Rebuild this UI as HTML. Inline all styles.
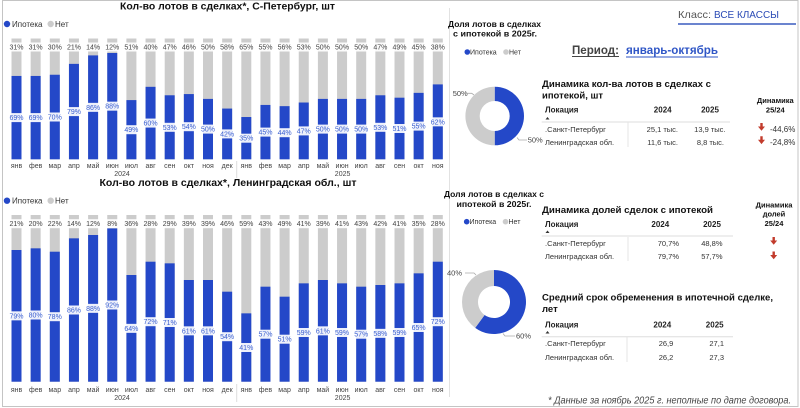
<!DOCTYPE html>
<html><head><meta charset="utf-8"><style>
html,body{margin:0;padding:0;background:#fff;}
body{width:800px;height:408px;overflow:hidden;}
svg{display:block;font-family:"Liberation Sans",Arial,sans-serif;}
.bl{fill:#2448c8}.gr{fill:#cccccc}
.lb{fill:#fff;opacity:.92}
.bt{font-size:7px;fill:#3a5fd0;text-anchor:middle}
.gt{font-size:7px;fill:#444;text-anchor:middle}
.mt{font-size:7px;fill:#444;text-anchor:middle}
.th{font-size:8px;font-weight:bold;fill:#222}
.td{font-size:7.5px;fill:#333}
.tr{font-size:7.5px;fill:#333;text-anchor:end}
.ar{fill:#c23b2c}
</style></head><body>
<svg width="800" height="408" viewBox="0 0 800 408" xmlns="http://www.w3.org/2000/svg">
<rect x="2.5" y="0.5" width="795.5" height="406" fill="none" stroke="#c4c4c4" stroke-width="1"/>
<line x1="449.5" y1="8" x2="449.5" y2="397" stroke="#e2e2e2" stroke-width="1"/>

<!-- TOP CHART -->
<text x="227.5" y="9.5" font-size="10" font-weight="bold" fill="#111" text-anchor="middle" textLength="215" lengthAdjust="spacingAndGlyphs">Кол-во лотов в сделках*, С-Петербург, шт</text>
<circle cx="7" cy="24" r="3.2" class="bl"/><text x="12" y="27" font-size="8" fill="#333">Ипотека</text>
<circle cx="50.7" cy="24" r="3.2" class="gr"/><text x="55" y="27" font-size="8" fill="#333">Нет</text>

<g>
<rect class="gr" x="11.5" y="38.5" width="10" height="120.8"/><rect class="bl" x="11.5" y="75.95" width="10" height="83.35"/>
<rect class="gr" x="30.65" y="38.5" width="10" height="120.8"/><rect class="bl" x="30.65" y="75.95" width="10" height="83.35"/>
<rect class="gr" x="49.8" y="38.5" width="10" height="120.8"/><rect class="bl" x="49.8" y="74.74" width="10" height="84.56"/>
<rect class="gr" x="68.95" y="38.5" width="10" height="120.8"/><rect class="bl" x="68.95" y="63.87" width="10" height="95.43"/>
<rect class="gr" x="88.1" y="38.5" width="10" height="120.8"/><rect class="bl" x="88.1" y="55.4" width="10" height="103.9"/>
<rect class="gr" x="107.25" y="38.5" width="10" height="120.8"/><rect class="bl" x="107.25" y="53" width="10" height="106.3"/>
<rect class="gr" x="126.4" y="38.5" width="10" height="120.8"/><rect class="bl" x="126.4" y="100.1" width="10" height="59.2"/>
<rect class="gr" x="145.55" y="38.5" width="10" height="120.8"/><rect class="bl" x="145.55" y="86.82" width="10" height="72.48"/>
<rect class="gr" x="164.7" y="38.5" width="10" height="120.8"/><rect class="bl" x="164.7" y="95.28" width="10" height="64.02"/>
<rect class="gr" x="183.85" y="38.5" width="10" height="120.8"/><rect class="bl" x="183.85" y="94.07" width="10" height="65.23"/>
<rect class="gr" x="203" y="38.5" width="10" height="120.8"/><rect class="bl" x="203" y="98.9" width="10" height="60.4"/>
<rect class="gr" x="222.15" y="38.5" width="10" height="120.8"/><rect class="bl" x="222.15" y="108.56" width="10" height="50.74"/>
<rect class="gr" x="241.3" y="38.5" width="10" height="120.8"/><rect class="bl" x="241.3" y="117.02" width="10" height="42.28"/>
<rect class="gr" x="260.45" y="38.5" width="10" height="120.8"/><rect class="bl" x="260.45" y="104.94" width="10" height="54.36"/>
<rect class="gr" x="279.6" y="38.5" width="10" height="120.8"/><rect class="bl" x="279.6" y="106.15" width="10" height="53.15"/>
<rect class="gr" x="298.75" y="38.5" width="10" height="120.8"/><rect class="bl" x="298.75" y="102.52" width="10" height="56.78"/>
<rect class="gr" x="317.9" y="38.5" width="10" height="120.8"/><rect class="bl" x="317.9" y="98.9" width="10" height="60.4"/>
<rect class="gr" x="337.05" y="38.5" width="10" height="120.8"/><rect class="bl" x="337.05" y="98.9" width="10" height="60.4"/>
<rect class="gr" x="356.2" y="38.5" width="10" height="120.8"/><rect class="bl" x="356.2" y="98.9" width="10" height="60.4"/>
<rect class="gr" x="375.35" y="38.5" width="10" height="120.8"/><rect class="bl" x="375.35" y="95.28" width="10" height="64.02"/>
<rect class="gr" x="394.5" y="38.5" width="10" height="120.8"/><rect class="bl" x="394.5" y="97.69" width="10" height="61.61"/>
<rect class="gr" x="413.65" y="38.5" width="10" height="120.8"/><rect class="bl" x="413.65" y="92.86" width="10" height="66.44"/>
<rect class="gr" x="432.8" y="38.5" width="10" height="120.8"/><rect class="bl" x="432.8" y="84.4" width="10" height="74.9"/>
</g>
<!-- top grey labels -->
<g>
<rect class="lb" x="9.5" y="42.5" width="14" height="9"/><text class="gt" x="16.5" y="49.5">31%</text>
<rect class="lb" x="28.65" y="42.5" width="14" height="9"/><text class="gt" x="35.65" y="49.5">31%</text>
<rect class="lb" x="47.8" y="42.5" width="14" height="9"/><text class="gt" x="54.8" y="49.5">30%</text>
<rect class="lb" x="66.95" y="42.5" width="14" height="9"/><text class="gt" x="73.95" y="49.5">21%</text>
<rect class="lb" x="86.1" y="42.5" width="14" height="9"/><text class="gt" x="93.1" y="49.5">14%</text>
<rect class="lb" x="105.25" y="42.5" width="14" height="9"/><text class="gt" x="112.25" y="49.5">12%</text>
<rect class="lb" x="124.4" y="42.5" width="14" height="9"/><text class="gt" x="131.4" y="49.5">51%</text>
<rect class="lb" x="143.55" y="42.5" width="14" height="9"/><text class="gt" x="150.55" y="49.5">40%</text>
<rect class="lb" x="162.7" y="42.5" width="14" height="9"/><text class="gt" x="169.7" y="49.5">47%</text>
<rect class="lb" x="181.85" y="42.5" width="14" height="9"/><text class="gt" x="188.85" y="49.5">46%</text>
<rect class="lb" x="201" y="42.5" width="14" height="9"/><text class="gt" x="208" y="49.5">50%</text>
<rect class="lb" x="220.15" y="42.5" width="14" height="9"/><text class="gt" x="227.15" y="49.5">58%</text>
<rect class="lb" x="239.3" y="42.5" width="14" height="9"/><text class="gt" x="246.3" y="49.5">65%</text>
<rect class="lb" x="258.45" y="42.5" width="14" height="9"/><text class="gt" x="265.45" y="49.5">55%</text>
<rect class="lb" x="277.6" y="42.5" width="14" height="9"/><text class="gt" x="284.6" y="49.5">56%</text>
<rect class="lb" x="296.75" y="42.5" width="14" height="9"/><text class="gt" x="303.75" y="49.5">53%</text>
<rect class="lb" x="315.9" y="42.5" width="14" height="9"/><text class="gt" x="322.9" y="49.5">50%</text>
<rect class="lb" x="335.05" y="42.5" width="14" height="9"/><text class="gt" x="342.05" y="49.5">50%</text>
<rect class="lb" x="354.2" y="42.5" width="14" height="9"/><text class="gt" x="361.2" y="49.5">50%</text>
<rect class="lb" x="373.35" y="42.5" width="14" height="9"/><text class="gt" x="380.35" y="49.5">47%</text>
<rect class="lb" x="392.5" y="42.5" width="14" height="9"/><text class="gt" x="399.5" y="49.5">49%</text>
<rect class="lb" x="411.65" y="42.5" width="14" height="9"/><text class="gt" x="418.65" y="49.5">45%</text>
<rect class="lb" x="430.8" y="42.5" width="14" height="9"/><text class="gt" x="437.8" y="49.5">38%</text>
</g>
<!-- top blue labels -->
<g>
<rect class="lb" x="9.5" y="113.1" width="14" height="9"/><text class="bt" x="16.5" y="120.1">69%</text>
<rect class="lb" x="28.65" y="113.1" width="14" height="9"/><text class="bt" x="35.65" y="120.1">69%</text>
<rect class="lb" x="47.8" y="112.5" width="14" height="9"/><text class="bt" x="54.8" y="119.5">70%</text>
<rect class="lb" x="66.95" y="107.1" width="14" height="9"/><text class="bt" x="73.95" y="114.1">79%</text>
<rect class="lb" x="86.1" y="102.85" width="14" height="9"/><text class="bt" x="93.1" y="109.85">86%</text>
<rect class="lb" x="105.25" y="101.65" width="14" height="9"/><text class="bt" x="112.25" y="108.65">88%</text>
<rect class="lb" x="124.4" y="125.2" width="14" height="9"/><text class="bt" x="131.4" y="132.2">49%</text>
<rect class="lb" x="143.55" y="118.56" width="14" height="9"/><text class="bt" x="150.55" y="125.56">60%</text>
<rect class="lb" x="162.7" y="122.8" width="14" height="9"/><text class="bt" x="169.7" y="129.8">53%</text>
<rect class="lb" x="181.85" y="122.2" width="14" height="9"/><text class="bt" x="188.85" y="129.2">54%</text>
<rect class="lb" x="201" y="124.6" width="14" height="9"/><text class="bt" x="208" y="131.6">50%</text>
<rect class="lb" x="220.15" y="129.4" width="14" height="9"/><text class="bt" x="227.15" y="136.4">42%</text>
<rect class="lb" x="239.3" y="133.7" width="14" height="9"/><text class="bt" x="246.3" y="140.7">35%</text>
<rect class="lb" x="258.45" y="127.6" width="14" height="9"/><text class="bt" x="265.45" y="134.6">45%</text>
<rect class="lb" x="277.6" y="128.2" width="14" height="9"/><text class="bt" x="284.6" y="135.2">44%</text>
<rect class="lb" x="296.75" y="126.4" width="14" height="9"/><text class="bt" x="303.75" y="133.4">47%</text>
<rect class="lb" x="315.9" y="124.6" width="14" height="9"/><text class="bt" x="322.9" y="131.6">50%</text>
<rect class="lb" x="335.05" y="124.6" width="14" height="9"/><text class="bt" x="342.05" y="131.6">50%</text>
<rect class="lb" x="354.2" y="124.6" width="14" height="9"/><text class="bt" x="361.2" y="131.6">50%</text>
<rect class="lb" x="373.35" y="122.8" width="14" height="9"/><text class="bt" x="380.35" y="129.8">53%</text>
<rect class="lb" x="392.5" y="124" width="14" height="9"/><text class="bt" x="399.5" y="131">51%</text>
<rect class="lb" x="411.65" y="121.6" width="14" height="9"/><text class="bt" x="418.65" y="128.6">55%</text>
<rect class="lb" x="430.8" y="117.35" width="14" height="9"/><text class="bt" x="437.8" y="124.35">62%</text>
</g>
<g>
<text class="mt" x="16.5" y="168">янв</text><text class="mt" x="35.65" y="168">фев</text><text class="mt" x="54.8" y="168">мар</text><text class="mt" x="73.95" y="168">апр</text><text class="mt" x="93.1" y="168">май</text><text class="mt" x="112.25" y="168">июн</text><text class="mt" x="131.4" y="168">июл</text><text class="mt" x="150.55" y="168">авг</text><text class="mt" x="169.7" y="168">сен</text><text class="mt" x="188.85" y="168">окт</text><text class="mt" x="208" y="168">ноя</text><text class="mt" x="227.15" y="168">дек</text><text class="mt" x="246.3" y="168">янв</text><text class="mt" x="265.45" y="168">фев</text><text class="mt" x="284.6" y="168">мар</text><text class="mt" x="303.75" y="168">апр</text><text class="mt" x="322.9" y="168">май</text><text class="mt" x="342.05" y="168">июн</text><text class="mt" x="361.2" y="168">июл</text><text class="mt" x="380.35" y="168">авг</text><text class="mt" x="399.5" y="168">сен</text><text class="mt" x="418.65" y="168">окт</text><text class="mt" x="437.8" y="168">ноя</text>
<text class="mt" x="122" y="176">2024</text><text class="mt" x="342.6" y="176">2025</text>
<line x1="236.7" y1="161" x2="236.7" y2="178" stroke="#ddd"/>
</g>

<!-- BOTTOM CHART -->
<text x="228" y="186" font-size="10" font-weight="bold" fill="#111" text-anchor="middle" textLength="257" lengthAdjust="spacingAndGlyphs">Кол-во лотов в сделках*, Ленинградская обл., шт</text>
<circle cx="7" cy="200.7" r="3.2" class="bl"/><text x="12" y="203.7" font-size="8" fill="#333">Ипотека</text>
<circle cx="50.7" cy="200.7" r="3.2" class="gr"/><text x="55" y="203.7" font-size="8" fill="#333">Нет</text>
<g>
<rect class="gr" x="11.5" y="215" width="10" height="166.7"/><rect class="bl" x="11.5" y="250" width="10" height="131.7"/>
<rect class="gr" x="30.65" y="215" width="10" height="166.7"/><rect class="bl" x="30.65" y="248.34" width="10" height="133.36"/>
<rect class="gr" x="49.8" y="215" width="10" height="166.7"/><rect class="bl" x="49.8" y="251.7" width="10" height="130"/>
<rect class="gr" x="68.95" y="215" width="10" height="166.7"/><rect class="bl" x="68.95" y="238.34" width="10" height="143.36"/>
<rect class="gr" x="88.1" y="215" width="10" height="166.7"/><rect class="bl" x="88.1" y="235" width="10" height="146.7"/>
<rect class="gr" x="107.25" y="215" width="10" height="166.7"/><rect class="bl" x="107.25" y="228.34" width="10" height="153.36"/>
<rect class="gr" x="126.4" y="215" width="10" height="166.7"/><rect class="bl" x="126.4" y="275" width="10" height="106.7"/>
<rect class="gr" x="145.55" y="215" width="10" height="166.7"/><rect class="bl" x="145.55" y="261.7" width="10" height="120"/>
<rect class="gr" x="164.7" y="215" width="10" height="166.7"/><rect class="bl" x="164.7" y="263.34" width="10" height="118.36"/>
<rect class="gr" x="183.85" y="215" width="10" height="166.7"/><rect class="bl" x="183.85" y="280" width="10" height="101.7"/>
<rect class="gr" x="203" y="215" width="10" height="166.7"/><rect class="bl" x="203" y="280" width="10" height="101.7"/>
<rect class="gr" x="222.15" y="215" width="10" height="166.7"/><rect class="bl" x="222.15" y="291.68" width="10" height="90.02"/>
<rect class="gr" x="241.3" y="215" width="10" height="166.7"/><rect class="bl" x="241.3" y="313.35" width="10" height="68.35"/>
<rect class="gr" x="260.45" y="215" width="10" height="166.7"/><rect class="bl" x="260.45" y="286.68" width="10" height="95.02"/>
<rect class="gr" x="279.6" y="215" width="10" height="166.7"/><rect class="bl" x="279.6" y="296.68" width="10" height="85.02"/>
<rect class="gr" x="298.75" y="215" width="10" height="166.7"/><rect class="bl" x="298.75" y="283.35" width="10" height="98.35"/>
<rect class="gr" x="317.9" y="215" width="10" height="166.7"/><rect class="bl" x="317.9" y="280" width="10" height="101.7"/>
<rect class="gr" x="337.05" y="215" width="10" height="166.7"/><rect class="bl" x="337.05" y="283.35" width="10" height="98.35"/>
<rect class="gr" x="356.2" y="215" width="10" height="166.7"/><rect class="bl" x="356.2" y="286.68" width="10" height="95.02"/>
<rect class="gr" x="375.35" y="215" width="10" height="166.7"/><rect class="bl" x="375.35" y="285" width="10" height="96.7"/>
<rect class="gr" x="394.5" y="215" width="10" height="166.7"/><rect class="bl" x="394.5" y="283.35" width="10" height="98.35"/>
<rect class="gr" x="413.65" y="215" width="10" height="166.7"/><rect class="bl" x="413.65" y="273.34" width="10" height="108.36"/>
<rect class="gr" x="432.8" y="215" width="10" height="166.7"/><rect class="bl" x="432.8" y="261.7" width="10" height="120"/>
</g>
<g>
<rect class="lb" x="9.5" y="219.2" width="14" height="9"/><text class="gt" x="16.5" y="226.2">21%</text>
<rect class="lb" x="28.65" y="219.2" width="14" height="9"/><text class="gt" x="35.65" y="226.2">20%</text>
<rect class="lb" x="47.8" y="219.2" width="14" height="9"/><text class="gt" x="54.8" y="226.2">22%</text>
<rect class="lb" x="66.95" y="219.2" width="14" height="9"/><text class="gt" x="73.95" y="226.2">14%</text>
<rect class="lb" x="86.1" y="219.2" width="14" height="9"/><text class="gt" x="93.1" y="226.2">12%</text>
<rect class="lb" x="105.25" y="219.2" width="14" height="9"/><text class="gt" x="112.25" y="226.2">8%</text>
<rect class="lb" x="124.4" y="219.2" width="14" height="9"/><text class="gt" x="131.4" y="226.2">36%</text>
<rect class="lb" x="143.55" y="219.2" width="14" height="9"/><text class="gt" x="150.55" y="226.2">28%</text>
<rect class="lb" x="162.7" y="219.2" width="14" height="9"/><text class="gt" x="169.7" y="226.2">29%</text>
<rect class="lb" x="181.85" y="219.2" width="14" height="9"/><text class="gt" x="188.85" y="226.2">39%</text>
<rect class="lb" x="201" y="219.2" width="14" height="9"/><text class="gt" x="208" y="226.2">39%</text>
<rect class="lb" x="220.15" y="219.2" width="14" height="9"/><text class="gt" x="227.15" y="226.2">46%</text>
<rect class="lb" x="239.3" y="219.2" width="14" height="9"/><text class="gt" x="246.3" y="226.2">59%</text>
<rect class="lb" x="258.45" y="219.2" width="14" height="9"/><text class="gt" x="265.45" y="226.2">43%</text>
<rect class="lb" x="277.6" y="219.2" width="14" height="9"/><text class="gt" x="284.6" y="226.2">49%</text>
<rect class="lb" x="296.75" y="219.2" width="14" height="9"/><text class="gt" x="303.75" y="226.2">41%</text>
<rect class="lb" x="315.9" y="219.2" width="14" height="9"/><text class="gt" x="322.9" y="226.2">39%</text>
<rect class="lb" x="335.05" y="219.2" width="14" height="9"/><text class="gt" x="342.05" y="226.2">41%</text>
<rect class="lb" x="354.2" y="219.2" width="14" height="9"/><text class="gt" x="361.2" y="226.2">43%</text>
<rect class="lb" x="373.35" y="219.2" width="14" height="9"/><text class="gt" x="380.35" y="226.2">42%</text>
<rect class="lb" x="392.5" y="219.2" width="14" height="9"/><text class="gt" x="399.5" y="226.2">41%</text>
<rect class="lb" x="411.65" y="219.2" width="14" height="9"/><text class="gt" x="418.65" y="226.2">35%</text>
<rect class="lb" x="430.8" y="219.2" width="14" height="9"/><text class="gt" x="437.8" y="226.2">28%</text>
</g>
<g>
<rect class="lb" x="9.5" y="311.35" width="14" height="9"/><text class="bt" x="16.5" y="318.35">79%</text>
<rect class="lb" x="28.65" y="310.5" width="14" height="9"/><text class="bt" x="35.65" y="317.5">80%</text>
<rect class="lb" x="47.8" y="312.2" width="14" height="9"/><text class="bt" x="54.8" y="319.2">78%</text>
<rect class="lb" x="66.95" y="305.5" width="14" height="9"/><text class="bt" x="73.95" y="312.5">86%</text>
<rect class="lb" x="86.1" y="303.85" width="14" height="9"/><text class="bt" x="93.1" y="310.85">88%</text>
<rect class="lb" x="105.25" y="300.5" width="14" height="9"/><text class="bt" x="112.25" y="307.5">92%</text>
<rect class="lb" x="124.4" y="323.85" width="14" height="9"/><text class="bt" x="131.4" y="330.85">64%</text>
<rect class="lb" x="143.55" y="317.2" width="14" height="9"/><text class="bt" x="150.55" y="324.2">72%</text>
<rect class="lb" x="162.7" y="318" width="14" height="9"/><text class="bt" x="169.7" y="325">71%</text>
<rect class="lb" x="181.85" y="326.35" width="14" height="9"/><text class="bt" x="188.85" y="333.35">61%</text>
<rect class="lb" x="201" y="326.35" width="14" height="9"/><text class="bt" x="208" y="333.35">61%</text>
<rect class="lb" x="220.15" y="332.2" width="14" height="9"/><text class="bt" x="227.15" y="339.2">54%</text>
<rect class="lb" x="239.3" y="343" width="14" height="9"/><text class="bt" x="246.3" y="350">41%</text>
<rect class="lb" x="258.45" y="329.7" width="14" height="9"/><text class="bt" x="265.45" y="336.7">57%</text>
<rect class="lb" x="277.6" y="334.7" width="14" height="9"/><text class="bt" x="284.6" y="341.7">51%</text>
<rect class="lb" x="296.75" y="328" width="14" height="9"/><text class="bt" x="303.75" y="335">59%</text>
<rect class="lb" x="315.9" y="326.35" width="14" height="9"/><text class="bt" x="322.9" y="333.35">61%</text>
<rect class="lb" x="335.05" y="328" width="14" height="9"/><text class="bt" x="342.05" y="335">59%</text>
<rect class="lb" x="354.2" y="329.7" width="14" height="9"/><text class="bt" x="361.2" y="336.7">57%</text>
<rect class="lb" x="373.35" y="328.85" width="14" height="9"/><text class="bt" x="380.35" y="335.85">58%</text>
<rect class="lb" x="392.5" y="328" width="14" height="9"/><text class="bt" x="399.5" y="335">59%</text>
<rect class="lb" x="411.65" y="323" width="14" height="9"/><text class="bt" x="418.65" y="330">65%</text>
<rect class="lb" x="430.8" y="317.2" width="14" height="9"/><text class="bt" x="437.8" y="324.2">72%</text>
</g>
<g>
<text class="mt" x="16.5" y="392">янв</text><text class="mt" x="35.65" y="392">фев</text><text class="mt" x="54.8" y="392">мар</text><text class="mt" x="73.95" y="392">апр</text><text class="mt" x="93.1" y="392">май</text><text class="mt" x="112.25" y="392">июн</text><text class="mt" x="131.4" y="392">июл</text><text class="mt" x="150.55" y="392">авг</text><text class="mt" x="169.7" y="392">сен</text><text class="mt" x="188.85" y="392">окт</text><text class="mt" x="208" y="392">ноя</text><text class="mt" x="227.15" y="392">дек</text><text class="mt" x="246.3" y="392">янв</text><text class="mt" x="265.45" y="392">фев</text><text class="mt" x="284.6" y="392">мар</text><text class="mt" x="303.75" y="392">апр</text><text class="mt" x="322.9" y="392">май</text><text class="mt" x="342.05" y="392">июн</text><text class="mt" x="361.2" y="392">июл</text><text class="mt" x="380.35" y="392">авг</text><text class="mt" x="399.5" y="392">сен</text><text class="mt" x="418.65" y="392">окт</text><text class="mt" x="437.8" y="392">ноя</text>
<text class="mt" x="122" y="400">2024</text><text class="mt" x="342.6" y="400">2025</text>
<line x1="236.7" y1="384" x2="236.7" y2="402" stroke="#ddd"/>
</g>

<!-- RIGHT PANEL -->
<text x="678" y="18" font-size="10.5" fill="#555" textLength="33" lengthAdjust="spacingAndGlyphs">Класс:</text>
<text x="714" y="18" font-size="10" fill="#2a4ab5" textLength="65" lengthAdjust="spacingAndGlyphs">ВСЕ КЛАССЫ</text>
<line x1="678" y1="24" x2="796" y2="24" stroke="#3a5bbf" stroke-width="1.5"/>

<text x="494.5" y="27" font-size="8.5" font-weight="bold" fill="#111" text-anchor="middle" textLength="93" lengthAdjust="spacingAndGlyphs">Доля лотов в сделках</text>
<text x="495" y="36.5" font-size="8.5" font-weight="bold" fill="#111" text-anchor="middle" textLength="84" lengthAdjust="spacingAndGlyphs">с ипотекой в 2025г.</text>
<circle cx="467.3" cy="52" r="2.8" class="bl"/><text x="470" y="54.5" font-size="7" fill="#333">Ипотека</text>
<circle cx="506" cy="52" r="2.8" class="gr"/><text x="509" y="54.5" font-size="7" fill="#333">Нет</text>

<text x="572" y="54" font-size="12" font-weight="bold" fill="#444" textLength="47" lengthAdjust="spacingAndGlyphs">Период:</text>
<line x1="572" y1="56.5" x2="619" y2="56.5" stroke="#444" stroke-width="1"/>
<text x="626" y="54" font-size="12" font-weight="bold" fill="#2f56c6" textLength="92" lengthAdjust="spacingAndGlyphs">январь-октябрь</text>
<line x1="626" y1="57" x2="718" y2="57" stroke="#2f56c6" stroke-width="1"/>

<!-- donut 1 -->
<path d="M494.7,86.7 A29.3,29.3 0 0 1 494.7,145.3 L494.7,131 A15,15 0 0 0 494.7,101 Z" class="bl"/>
<path d="M494.7,145.3 A29.3,29.3 0 0 1 494.7,86.7 L494.7,101 A15,15 0 0 0 494.7,131 Z" class="gr"/>
<text x="452.7" y="95.8" font-size="7.5" fill="#444">50%</text>
<polyline points="462.7,93.3 471.7,93.3 474,95" fill="none" stroke="#aaa" stroke-width="0.8"/>
<text x="527.7" y="142.5" font-size="7.5" fill="#444">50%</text>
<polyline points="517,137.5 519,140 527,140" fill="none" stroke="#aaa" stroke-width="0.8"/>

<!-- table 1 -->
<text x="542" y="87" font-size="9.5" font-weight="bold" fill="#111" textLength="169" lengthAdjust="spacingAndGlyphs">Динамика кол-ва лотов в сделках с</text>
<text x="542" y="98.5" font-size="9.5" font-weight="bold" fill="#111" textLength="61" lengthAdjust="spacingAndGlyphs">ипотекой, шт</text>
<text class="th" x="545" y="112.7">Локация</text>
<text class="th" x="662.7" y="112.7" text-anchor="middle">2024</text>
<text class="th" x="710" y="112.7" text-anchor="middle">2025</text>
<path d="M545.5,119.5 l2,-2.5 l2,2.5 z" fill="#333"/>
<line x1="541.7" y1="122" x2="730" y2="122" stroke="#ddd"/>
<line x1="628" y1="122" x2="628" y2="147" stroke="#e4e4e4"/>
<text class="td" x="545" y="132">.Санкт-Петербург</text>
<text class="tr" x="678" y="132">25,1 тыс.</text>
<text class="tr" x="725.5" y="132">13,9 тыс.</text>
<text class="td" x="545" y="145">Ленинградская обл.</text>
<text class="tr" x="678" y="145">11,6 тыс.</text>
<text class="tr" x="724" y="145">8,8 тыс.</text>
<text x="775.3" y="103" font-size="7.5" font-weight="bold" fill="#111" text-anchor="middle">Динамика</text>
<text x="775.3" y="112.7" font-size="7.5" font-weight="bold" fill="#111" text-anchor="middle">25/24</text>
<path class="ar" d="M760.3,123 h2.4 v3.5 h2.3 l-3.5,4.3 l-3.5,-4.3 h2.3 z"/>
<text x="770" y="132" font-size="8" fill="#333">-44,6%</text>
<path class="ar" d="M760.3,136.3 h2.4 v3.5 h2.3 l-3.5,4.3 l-3.5,-4.3 h2.3 z"/>
<text x="770" y="145" font-size="8" fill="#333">-24,8%</text>

<!-- donut 2 titles -->
<text x="494" y="197" font-size="8.5" font-weight="bold" fill="#111" text-anchor="middle" textLength="100" lengthAdjust="spacingAndGlyphs">Доля лотов в сделках с</text>
<text x="494" y="207" font-size="8.5" font-weight="bold" fill="#111" text-anchor="middle" textLength="75" lengthAdjust="spacingAndGlyphs">ипотекой в 2025г.</text>
<circle cx="466.7" cy="221.7" r="2.8" class="bl"/><text x="469.5" y="224.2" font-size="7" fill="#333">Ипотека</text>
<circle cx="505.5" cy="221.7" r="2.8" class="gr"/><text x="508.5" y="224.2" font-size="7" fill="#333">Нет</text>

<!-- table 2 -->
<text x="542" y="213" font-size="9.5" font-weight="bold" fill="#111" textLength="171" lengthAdjust="spacingAndGlyphs">Динамика долей сделок с ипотекой</text>
<text class="th" x="545" y="227">Локация</text>
<text class="th" x="660.3" y="227" text-anchor="middle">2024</text>
<text class="th" x="712" y="227" text-anchor="middle">2025</text>
<path d="M545.5,233 l2,-2.5 l2,2.5 z" fill="#333"/>
<line x1="541.7" y1="236" x2="733" y2="236" stroke="#ddd"/>
<line x1="628" y1="237" x2="628" y2="261" stroke="#e4e4e4"/>
<text class="td" x="545" y="246">.Санкт-Петербург</text>
<text class="tr" x="679" y="246">70,7%</text>
<text class="tr" x="722.5" y="246">48,8%</text>
<text class="td" x="545" y="259">Ленинградская обл.</text>
<text class="tr" x="679" y="259">79,7%</text>
<text class="tr" x="722.5" y="259">57,7%</text>
<text x="774" y="207.3" font-size="7.5" font-weight="bold" fill="#111" text-anchor="middle">Динамика</text>
<text x="774" y="216.7" font-size="7.5" font-weight="bold" fill="#111" text-anchor="middle">долей</text>
<text x="774" y="226" font-size="7.5" font-weight="bold" fill="#111" text-anchor="middle">25/24</text>
<path class="ar" d="M772.5,237 h2.4 v3.5 h2.3 l-3.5,4.3 l-3.5,-4.3 h2.3 z"/>
<path class="ar" d="M772.5,251.5 h2.4 v3.5 h2.3 l-3.5,4.3 l-3.5,-4.3 h2.3 z"/>

<!-- donut 2 -->
<path d="M494,270 A32,32 0 1 1 475.19,327.89 L484.6,314.94 A16,16 0 1 0 494,286 Z" class="bl"/>
<path d="M475.19,327.89 A32,32 0 0 1 494,270 L494,286 A16,16 0 0 0 484.6,314.94 Z" class="gr"/>
<text x="447" y="275.5" font-size="7.5" fill="#444">40%</text>
<polyline points="465,273 474,273 476,275" fill="none" stroke="#aaa" stroke-width="0.8"/>
<text x="516" y="338.5" font-size="7.5" fill="#444">60%</text>
<polyline points="503,333.5 505,336 515,336" fill="none" stroke="#aaa" stroke-width="0.8"/>

<!-- table 3 -->
<text x="542" y="300.5" font-size="9.5" font-weight="bold" fill="#111" textLength="231" lengthAdjust="spacingAndGlyphs">Средний срок обременения в ипотечной сделке,</text>
<text x="542" y="312" font-size="9.5" font-weight="bold" fill="#111">лет</text>
<text class="th" x="545" y="327.5">Локация</text>
<text class="th" x="662.3" y="327.5" text-anchor="middle">2024</text>
<text class="th" x="714.7" y="327.5" text-anchor="middle">2025</text>
<path d="M545.5,333.5 l2,-2.5 l2,2.5 z" fill="#333"/>
<line x1="541.7" y1="336.7" x2="733" y2="336.7" stroke="#ddd"/>
<line x1="627" y1="337" x2="627" y2="362" stroke="#e4e4e4"/>
<text class="td" x="545" y="346">.Санкт-Петербург</text>
<text class="tr" x="673.3" y="346">26,9</text>
<text class="tr" x="724" y="346">27,1</text>
<text class="td" x="545" y="360">Ленинградская обл.</text>
<text class="tr" x="673.3" y="360">26,2</text>
<text class="tr" x="724" y="360">27,3</text>

<text x="548" y="403.5" font-size="10.5" font-style="italic" fill="#444" textLength="243" lengthAdjust="spacingAndGlyphs">* Данные за ноябрь 2025 г. неполные по дате договора.</text>
</svg>
</body></html>
